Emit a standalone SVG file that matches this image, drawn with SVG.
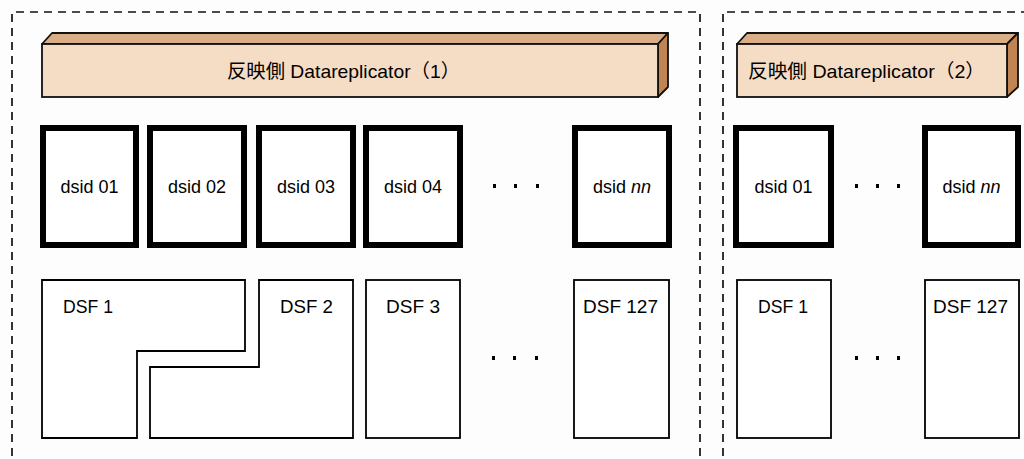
<svg xmlns="http://www.w3.org/2000/svg" width="1024" height="459" viewBox="0 0 1024 459">
<style>
.bg{fill:#fdfdfd}
.dash{fill:none;stroke:#111;stroke-width:1.7;stroke-dasharray:8 6}
.front{fill:#f4dcc5;stroke:#111;stroke-width:1.8}
.top{fill:#d9ae86;stroke:#111;stroke-width:1.8;stroke-linejoin:round}
.side{fill:#c08552;stroke:#111;stroke-width:1.8;stroke-linejoin:round}
.ds{fill:#fff;stroke:#000;stroke-width:6}
.dsf{fill:#fff;stroke:#000;stroke-width:1.8}
.t{font-family:"Liberation Sans","Noto Sans CJK JP",sans-serif;fill:#000}
.lbl{font-size:19px}
.big{font-size:18px}
.title{font-size:19px}
.dot{fill:#000}
</style>
<rect class="bg" x="0" y="0" width="1024" height="459"/>
<g id="groups">
<path class="dash" d="M12,470 V12 H700 V470"/>
<path class="dash" d="M723,470 V12 H1030"/>
</g>
<g id="dr1">
<polygon class="top" points="42,44 52,33 668,33 658,44"/>
<polygon class="side" points="658,44 668,33 668,87 658,97"/>
<rect class="front" x="42" y="44" width="616" height="53"/>
<text class="t title" x="227" y="78" textLength="233" lengthAdjust="spacingAndGlyphs">反映側 Datareplicator（1）</text>
</g>
<g id="dr2">
<polygon class="top" points="737,44 747,33 1018,33 1007,44"/>
<polygon class="side" points="1007,44 1018,33 1018,87 1007,97"/>
<rect class="front" x="737" y="44" width="270" height="53"/>
<text class="t title" x="748" y="78" textLength="237" lengthAdjust="spacingAndGlyphs">反映側 Datareplicator（2）</text>
</g>
<g id="dsid1-01"><rect class="ds" x="43" y="128" width="93" height="117"/><text class="t big" x="89.5" y="193" text-anchor="middle">dsid 01</text></g>
<g id="dsid1-02"><rect class="ds" x="150" y="128" width="94" height="117"/><text class="t big" x="197" y="193" text-anchor="middle">dsid 02</text></g>
<g id="dsid1-03"><rect class="ds" x="259" y="128" width="94" height="117"/><text class="t big" x="306" y="193" text-anchor="middle">dsid 03</text></g>
<g id="dsid1-04"><rect class="ds" x="366" y="128" width="94" height="117"/><text class="t big" x="413" y="193" text-anchor="middle">dsid 04</text></g>
<g id="dsid1-nn"><rect class="ds" x="575" y="128" width="94" height="117"/><text class="t big" x="622" y="193" text-anchor="middle">dsid <tspan font-style="italic">nn</tspan></text></g>
<g id="dots1a"><rect class="dot" x="493" y="184" width="3" height="4"/><rect class="dot" x="514" y="184" width="3" height="4"/><rect class="dot" x="536" y="184" width="3" height="4"/></g>
<g id="dsid2-01"><rect class="ds" x="736" y="128" width="95" height="117"/><text class="t big" x="783.5" y="193" text-anchor="middle">dsid 01</text></g>
<g id="dsid2-nn"><rect class="ds" x="925" y="128" width="93" height="117"/><text class="t big" x="971.5" y="193" text-anchor="middle">dsid <tspan font-style="italic">nn</tspan></text></g>
<g id="dots2a"><rect class="dot" x="855" y="184" width="3" height="4"/><rect class="dot" x="876" y="184" width="3" height="4"/><rect class="dot" x="897" y="184" width="3" height="4"/></g>
<g id="dsf1-1"><polygon class="dsf" points="42,280 245,280 245,351 137,351 137,438 42,438"/><text class="t lbl" x="63" y="313" textLength="50" lengthAdjust="spacingAndGlyphs">DSF 1</text></g>
<g id="dsf1-2"><polygon class="dsf" points="259,280 353,280 353,438 150,438 150,367 259,367"/><text class="t lbl" x="280" y="313" textLength="53" lengthAdjust="spacingAndGlyphs">DSF 2</text></g>
<g id="dsf1-3"><rect class="dsf" x="366" y="280" width="94" height="158"/><text class="t lbl" x="386" y="313" textLength="54" lengthAdjust="spacingAndGlyphs">DSF 3</text></g>
<g id="dsf1-127"><rect class="dsf" x="574" y="280" width="95" height="158"/><text class="t lbl" x="583" y="313" textLength="75" lengthAdjust="spacingAndGlyphs">DSF 127</text></g>
<g id="dots1b"><rect class="dot" x="492" y="356" width="3" height="4"/><rect class="dot" x="513" y="356" width="3" height="4"/><rect class="dot" x="535" y="356" width="3" height="4"/></g>
<g id="dsf2-1"><rect class="dsf" x="737" y="280" width="94" height="158"/><text class="t lbl" x="758" y="313" textLength="50" lengthAdjust="spacingAndGlyphs">DSF 1</text></g>
<g id="dsf2-127"><rect class="dsf" x="925" y="280" width="94" height="158"/><text class="t lbl" x="933" y="313" textLength="75" lengthAdjust="spacingAndGlyphs">DSF 127</text></g>
<g id="dots2b"><rect class="dot" x="855" y="356" width="3" height="4"/><rect class="dot" x="876" y="356" width="3" height="4"/><rect class="dot" x="897" y="356" width="3" height="4"/></g>
<g id="connectors"></g>
</svg>
